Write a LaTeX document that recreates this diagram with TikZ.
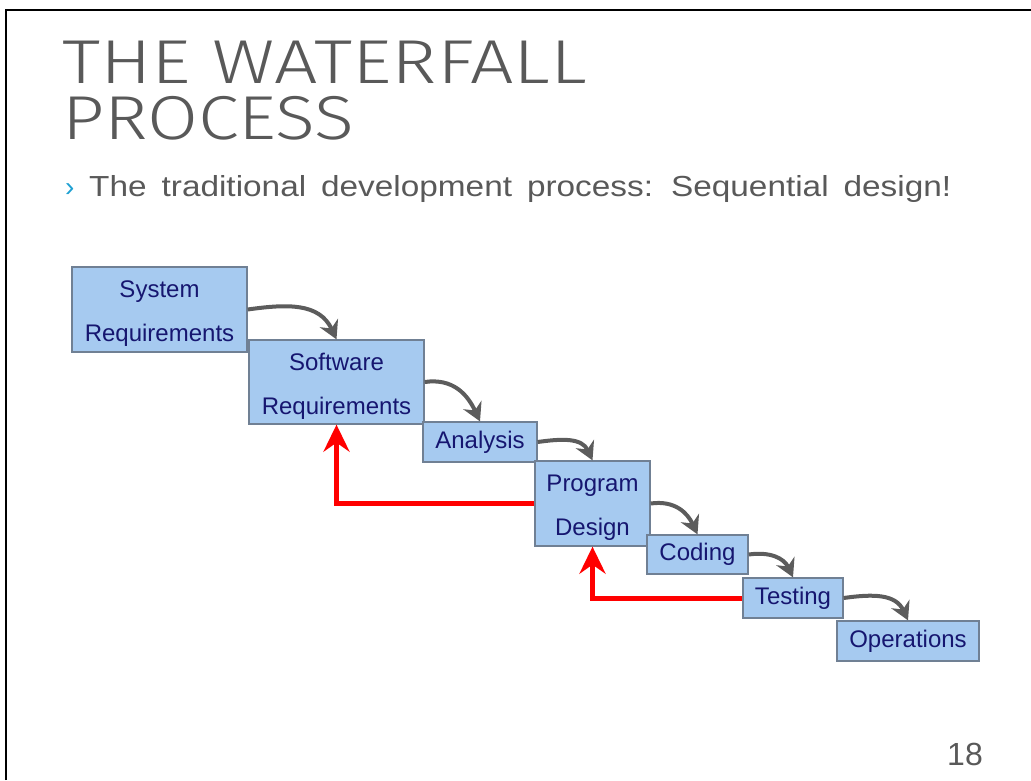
\documentclass[tikz,border=0pt]{standalone}
\usepackage{fontspec}
\setmainfont{Liberation Sans}
\newfontfamily\titlefont{Fira Sans Light}
\usetikzlibrary{arrows.meta}
\definecolor{boxfill}{RGB}{166,202,240}
\definecolor{boxline}{RGB}{112,128,148}
\definecolor{navy}{RGB}{22,22,112}
\definecolor{slategray}{RGB}{89,89,89}
\definecolor{flowgray}{RGB}{92,92,92}
\definecolor{bulletblue}{RGB}{30,160,210}
\begin{document}
\begin{tikzpicture}[x=1pt,y=-1pt,
  stage/.style={draw=boxline, line width=1.3pt, fill=boxfill, text=navy,
    font=\fontsize{24}{44}\selectfont, align=center, inner sep=0pt},
  flow/.style={draw=flowgray, line width=4pt,
    -{Stealth[length=18pt,width=20pt,inset=6pt]}},
  back/.style={draw=red, line width=5pt,
    -{Stealth[length=27pt,width=26pt,inset=9pt]}},
  plain/.style={inner sep=0pt, text=slategray}]
\useasboundingbox (0,0) rectangle (1031,780);
\draw[line width=2.5pt] (6,780) -- (6,10) -- (1031,10);

% title
\node[plain, anchor=base west, font=\titlefont\fontsize{62}{62}\selectfont, xscale=1.24] (t1) at (62,83) {THE WATERFALL};
\node[plain, anchor=base west, font=\titlefont\fontsize{62}{62}\selectfont, xscale=1.19] (t2) at (62,139) {PROCESS};

% subtitle
\node[inner sep=0pt, anchor=base west, text=bulletblue, font=\fontsize{28}{28}\selectfont] (bul) at (65,196) {›};
\node[plain, anchor=base west, font=\fontsize{29}{29}\selectfont, xscale=1.15] (sub) at (89,196) {\spaceskip=13pt\relax The traditional development process: Sequential design!};

% stages
\node[stage, minimum width=175pt, minimum height=85pt] (sys) at (159.5,309.5) {\rule{0pt}{25pt}System\\Requirements};
\node[stage, minimum width=175pt, minimum height=84pt] (soft) at (336.5,382) {\rule{0pt}{25pt}Software\\Requirements};
\node[stage, minimum width=114pt, minimum height=40pt] (ana) at (480,442) {Analysis};
\node[stage, minimum width=115pt, minimum height=85pt] (prog) at (592.5,503.5) {\rule{0pt}{25pt}Program\\Design};
\node[stage, minimum width=101pt, minimum height=39pt] (cod) at (697.5,554.5) {Coding};
\node[stage, minimum width=100pt, minimum height=40pt] (test) at (793,598) {Testing};
\node[stage, minimum width=142pt, minimum height=40pt] (ops) at (908,641) {Operations};

% flow arrows
\draw[flow] (sys.east) to[out=8,in=115,looseness=1.1] (soft.north);
\draw[flow] (soft.east) to[out=8,in=115,looseness=1.1] (ana.north);
\draw[flow] (ana.east) to[out=8,in=115,looseness=1.1] (prog.north);
\draw[flow] (prog.east) to[out=8,in=115,looseness=1.1] (cod.north);
\draw[flow] (cod.east) to[out=8,in=115,looseness=1.1] (test.north);
\draw[flow] (test.east) to[out=8,in=115,looseness=1.1] (ops.north);

% feedback arrows
\draw[back] (prog.west) -| (soft.south);
\draw[back] (test.west) -| (prog.south);

% page number
\node[plain, anchor=base east, font=\fontsize{32}{32}\selectfont] (pg) at (983,765) {18};
\end{tikzpicture}
\end{document}
